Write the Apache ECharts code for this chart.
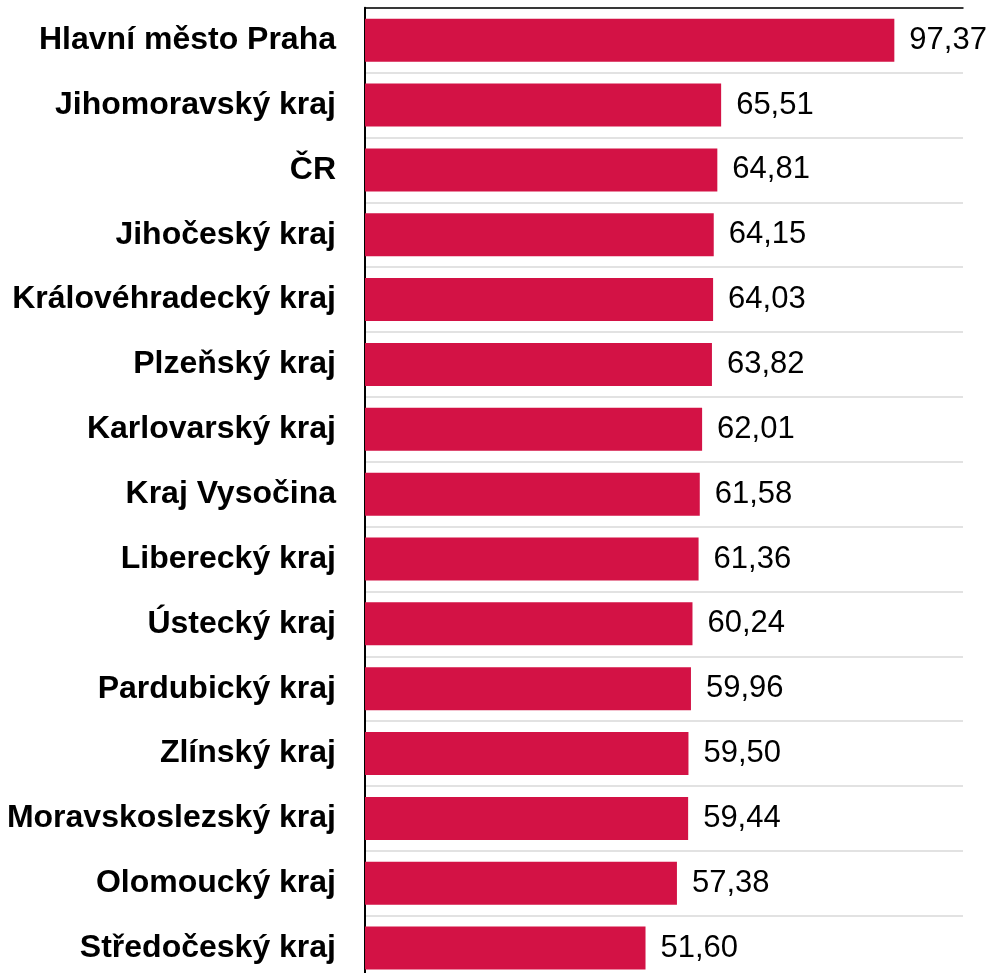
<!DOCTYPE html>
<html>
<head>
<meta charset="utf-8">
<script src="https://cdn.jsdelivr.net/npm/echarts@6/dist/echarts.min.js"></script>
<style>
  html, body { margin: 0; padding: 0; background: #fff; }
  #chart { width: 997px; height: 973px; }
</style>
</head>
<body>
<div id="chart"></div>
<script>
// kraje, seřazené od nejvyšší hodnoty
const regions = [
  'Hlavní město Praha', 'Jihomoravský kraj', 'ČR', 'Jihočeský kraj',
  'Královéhradecký kraj', 'Plzeňský kraj', 'Karlovarský kraj', 'Kraj Vysočina',
  'Liberecký kraj', 'Ústecký kraj', 'Pardubický kraj', 'Zlínský kraj',
  'Moravskoslezský kraj', 'Olomoucký kraj', 'Středočeský kraj'
]
const values = [
  97.37, 65.51, 64.81, 64.15, 64.03, 63.82, 62.01, 61.58,
  61.36, 60.24, 59.96, 59.50, 59.44, 57.38, 51.60
]

const font = "'Liberation Sans', Arial, sans-serif"

const chart = echarts.init(document.getElementById('chart'))
const option = {
  animation: false,
  grid: {
    left: 365,
    right: 34,
    top: 7.8,
    bottom: -7.5,
    outerBoundsMode: 'none' // poslední řádek přesahuje spodní okraj
  },
  xAxis: {
    type: 'value',
    position: 'top',
    min: 0,
    max: 110,
    axisLine: { show: true, lineStyle: { color: '#000', width: 1.5 } },
    axisTick: { show: false },
    axisLabel: { show: false },
    splitLine: { show: false }
  },
  yAxis: {
    type: 'category',
    inverse: true,
    data: regions,
    axisLine: { show: true, lineStyle: { color: '#000', width: 2 } },
    axisTick: { show: false },
    splitLine: { show: true, lineStyle: { color: '#d9d9d9', width: 1.5 } },
    axisLabel: {
      margin: 29,
      color: '#000',
      fontFamily: font,
      fontWeight: 'bold',
      fontSize: 32
    }
  },
  series: [
    {
      type: 'bar',
      data: values,
      barWidth: 43,
      itemStyle: { color: '#d31245' },
      label: {
        show: true,
        position: 'right',
        distance: 15,
        color: '#000',
        fontFamily: font,
        fontSize: 31,
        formatter: p => p.value.toFixed(2).replace('.', ',')
      }
    }
  ]
}
chart.setOption(option)
</script>
</body>
</html>
